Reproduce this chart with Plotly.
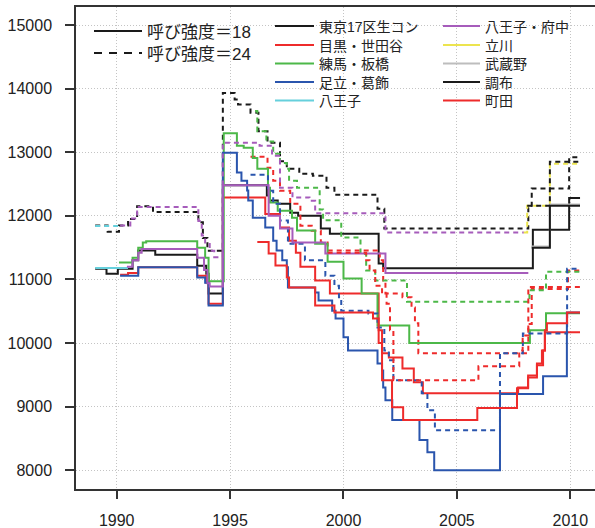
import plotly.graph_objects as go

# ---------------- data (change points: year, price) ----------------
tokyo17_18_x = [1989.05, 1989.55, 1990.05, 1990.7, 1990.95, 1991.7, 1993.55, 1993.95, 1994.05, 1994.68, 1996.62, 1996.75, 1997.1, 1997.65, 1998.0, 1999.0, 1999.4, 2001.55, 2001.75, 2008.35, 2009.95, 2010.43]
tokyo17_18_y = [11170, 11090, 11170, 11300, 11455, 11390, 11215, 11090, 10780, 12480, 12320, 12240, 12190, 12050, 12000, 11800, 11720, 11250, 11175, 11780, 12280, 12280]

tokyo17_24_x = [1989.05, 1989.6, 1990.1, 1990.5, 1990.9, 1991.6, 1993.6, 1993.8, 1994.0, 1994.68, 1995.2, 1995.35, 1995.9, 1996.25, 1996.65, 1997.2, 1997.5, 1998.05, 1998.65, 1999.25, 1999.6, 2001.5, 2001.8, 2008.15, 2008.3, 2009.95, 2010.43]
tokyo17_24_y = [11850, 11750, 11850, 11950, 12150, 12060, 11900, 11650, 11450, 13930, 13830, 13750, 13620, 13330, 13150, 12860, 12740, 12660, 12630, 12440, 12330, 12110, 11800, 12130, 12430, 12920, 12920]

meguro_18_x = [1990.15, 1990.5, 1990.95, 1993.55, 1993.95, 1994.05, 1994.68, 1996.55, 1997.2, 1997.6, 1997.9, 1998.1, 1998.75, 1999.4, 2001.55, 2001.7, 2002.0, 2002.6, 2003.1, 2003.5, 2007.7, 2008.14, 2008.53, 2008.8, 2008.88, 2010.43]
meguro_18_y = [11075, 11100, 11190, 11060, 10950, 10620, 12290, 12030, 11815, 11610, 11420, 11200, 10985, 10780, 10200, 9840, 9775, 9600, 9385, 9210, 9300, 9460, 9650, 9885, 10170, 10170]

meguro_24_x = [1995.9, 1996.65, 1996.9, 1997.2, 1997.65, 1998.1, 1998.6, 1999.0, 1999.3, 2001.6, 2001.75, 2001.85, 2002.6, 2003.0, 2003.15, 2003.3, 2008.15, 2008.3, 2009.9, 2010.43]
meguro_24_y = [12930, 12755, 12550, 12395, 12190, 11845, 11765, 11580, 11455, 11300, 10985, 10780, 10720, 10560, 10310, 9840, 10300, 10850, 11140, 11140]

nerima_18_x = [1990.1, 1990.7, 1990.95, 1991.15, 1991.3, 1993.55, 1993.9, 1994.05, 1994.72, 1995.3, 1995.6, 1996.0, 1996.2, 1996.67, 1996.76, 1997.1, 1997.73, 1997.95, 1998.75, 1999.3, 2000.0, 2000.8, 2001.5, 2002.9, 2008.22, 2008.93, 2010.43]
nerima_18_y = [11265, 11340, 11500, 11580, 11600, 11500, 11340, 10970, 13300, 13100, 13070, 12910, 12740, 12440, 12210, 12080, 11970, 11770, 11560, 11280, 11015, 10780, 10275, 10000, 10200, 10470, 10470]

nerima_24_x = [1996.1, 1996.2, 1996.6, 1996.9, 1997.2, 1997.5, 1997.6, 1997.95, 1998.95, 1999.1, 1999.9, 2000.75, 2001.0, 2001.4, 2002.8, 2008.2, 2008.93, 2010.43]
nerima_24_y = [13650, 13330, 13170, 12975, 12830, 12740, 12550, 12440, 12100, 11930, 11660, 11400, 11140, 10985, 10650, 10830, 11120, 11120]

adachi_18_x = [1990.15, 1990.95, 1993.55, 1993.9, 1994.05, 1994.68, 1995.3, 1995.5, 1995.75, 1995.8, 1996.0, 1996.55, 1996.9, 1997.05, 1997.3, 1997.5, 1997.55, 1998.75, 1998.9, 1999.5, 1999.65, 2000.0, 2000.2, 2001.5, 2001.7, 2001.75, 2001.85, 2002.15, 2003.35, 2003.7, 2004.0, 2006.9, 2008.8, 2009.85, 2010.43]
adachi_18_y = [11060, 11190, 11030, 10950, 10590, 12990, 12680, 12550, 12400, 12240, 11970, 11815, 11610, 11455, 11300, 11190, 10875, 10795, 10670, 10510, 10385, 10090, 9885, 9680, 9570, 9300, 9100, 8790, 8475, 8285, 8000, 9200, 9480, 10480, 10480]

adachi_24_x = [1995.9, 1996.67, 1996.9, 1997.2, 1997.55, 1998.3, 1999.2, 1999.6, 1999.8, 1999.9, 2001.1, 2001.5, 2001.8, 2002.0, 2002.2, 2003.45, 2003.7, 2004.03, 2006.9, 2007.91, 2009.86, 2010.43]
adachi_24_y = [12645, 12395, 12190, 11925, 11560, 11300, 11060, 10900, 10720, 10510, 10465, 10245, 9885, 9730, 9415, 9210, 8945, 8630, 9840, 10150, 11170, 11170]

hachioji_18_x = [1989.05, 1990.5]
hachioji_18_y = [11180, 11180]
hachioji_24_x = [1989.05, 1990.2]
hachioji_24_y = [11840, 11840]

hfuchu_18_x = [1990.45, 1990.7, 1990.95, 1991.1, 1993.55, 1993.85, 1994.0, 1994.1, 1994.68, 1996.7, 1997.2, 1997.75, 1999.2, 2001.85, 2008.15]
hfuchu_18_y = [11200, 11300, 11420, 11480, 11340, 11150, 10940, 10890, 12480, 12000, 11800, 11580, 11410, 11100, 11100]

hfuchu_24_x = [1990.15, 1990.6, 1990.9, 1993.6, 1993.75, 1993.9, 1994.1, 1994.3, 1994.68, 1996.3, 1996.85, 1997.2, 1997.75, 1998.5, 1998.75, 2001.85, 2007.95]
hfuchu_24_y = [11850, 11960, 12140, 11920, 11690, 11580, 11450, 11350, 13150, 13100, 12945, 12440, 12290, 12236, 12040, 11740, 11740]

tachikawa_24_x = [2007.95, 2008.1, 2009.1, 2010.43]
tachikawa_24_y = [11740, 12160, 12820, 12820]

musashino_18_x = [2008.3, 2009.1, 2010.43]
musashino_18_y = [11520, 12180, 12180]

chofu_18_x = [2008.3, 2009.1, 2010.43]
chofu_18_y = [11500, 12160, 12160]
chofu_24_x = [2008.1, 2009.1, 2010.43]
chofu_24_y = [12160, 12850, 12850]

machida_18_x = [1996.2, 1996.7, 1997.0, 1997.5, 1997.6, 1998.75, 1999.6, 2001.3, 2001.55, 2001.7, 2002.14, 2002.63, 2005.9, 2007.65, 2008.14, 2008.53, 2008.75, 2008.88, 2008.97, 2009.86, 2010.43]
machida_18_y = [11590, 11410, 11220, 11030, 10875, 10590, 10480, 10385, 10000, 9415, 8990, 8790, 8980, 9290, 9490, 9680, 9885, 10200, 10310, 10480, 10480]

machida_24_x = [1999.3, 2001.0, 2001.15, 2001.4, 2001.7, 2001.9, 2002.05, 2002.2, 2005.95, 2007.75, 2007.9, 2008.15, 2010.43]
machida_24_y = [11420, 11300, 11140, 10900, 10780, 10620, 10200, 9415, 9635, 9885, 10120, 10880, 10880]

region_names = ["東京17区生コン", "目黒・世田谷", "練馬・板橋", "足立・葛飾", "八王子",
                "八王子・府中", "立川", "武蔵野", "調布", "町田"]
strength_names = ["呼び強度＝18", "呼び強度＝24"]
x_ticks = [1990, 1995, 2000, 2005, 2010]
y_ticks = [8000, 9000, 10000, 11000, 12000, 13000, 14000, 15000]

# ---------------- styling ----------------
C_BLACK = "#1a1a1a"
C_RED = "#ee2b2b"
C_GREEN = "#4cb848"
C_BLUE = "#2a55ad"
C_CYAN = "#66d0dc"
C_PURPLE = "#a65cbb"
C_YELLOW = "#ece44f"
C_GRAY = "#bdbdbd"
region_colors = [C_BLACK, C_RED, C_GREEN, C_BLUE, C_CYAN,
                 C_PURPLE, C_YELLOW, C_GRAY, C_BLACK, C_RED]
DASH = "5px,4px"
LW = 2

series = [
    (tokyo17_18_x, tokyo17_18_y, C_BLACK, "solid"),
    (tokyo17_24_x, tokyo17_24_y, C_BLACK, DASH),
    (meguro_18_x, meguro_18_y, C_RED, "solid"),
    (meguro_24_x, meguro_24_y, C_RED, DASH),
    (nerima_18_x, nerima_18_y, C_GREEN, "solid"),
    (nerima_24_x, nerima_24_y, C_GREEN, DASH),
    (adachi_18_x, adachi_18_y, C_BLUE, "solid"),
    (adachi_24_x, adachi_24_y, C_BLUE, DASH),
    (hachioji_18_x, hachioji_18_y, C_CYAN, "solid"),
    (hachioji_24_x, hachioji_24_y, C_CYAN, DASH),
    (hfuchu_18_x, hfuchu_18_y, C_PURPLE, "solid"),
    (hfuchu_24_x, hfuchu_24_y, C_PURPLE, DASH),
    (tachikawa_24_x, tachikawa_24_y, C_YELLOW, DASH),
    (musashino_18_x, musashino_18_y, C_GRAY, "solid"),
    (chofu_18_x, chofu_18_y, C_BLACK, "solid"),
    (chofu_24_x, chofu_24_y, C_BLACK, DASH),
    (machida_18_x, machida_18_y, C_RED, "solid"),
    (machida_24_x, machida_24_y, C_RED, DASH),
]

fig = go.Figure()
for xs, ys, col, dash in series:
    fig.add_trace(go.Scatter(x=xs, y=ys, mode="lines", line_shape="hv",
                             line=dict(color=col, width=LW, dash=dash),
                             showlegend=False, hoverinfo="skip"))

FONT = "Liberation Sans, Noto Sans CJK JP, sans-serif"

# plot area in pixels: x 76..595, y 7..489
def px_x(p):
    return (p - 76) / 519.0

def px_y(p):
    return 1 - (p - 7) / 482.0

legend_layout = {}
entries = []
# group 1: line style key
for i, (name, dash) in enumerate(zip(strength_names, ["solid", "8px,7px"])):
    entries.append((name, C_BLACK, dash, 89, [31.5, 53.5][i], 17, 48))
# group 2 / 3: regions
row_y = [26.5, 45.5, 64, 82.5, 101]
for i, (name, col) in enumerate(zip(region_names, region_colors)):
    left = 270 if i < 5 else 438
    iw = 39 if i < 5 else 37
    entries.append((name, col, "solid", left, row_y[i % 5], 14, iw))

for k, (name, col, dash, left, cy, fs, iw) in enumerate(entries):
    lid = "legend" if k == 0 else "legend%d" % (k + 1)
    fig.add_trace(go.Scatter(x=[None], y=[None], mode="lines", name=name,
                             line=dict(color=col, width=LW, dash=dash),
                             legend=lid, hoverinfo="skip"))
    legend_layout[lid] = dict(x=px_x(left), y=px_y(cy), xanchor="left",
                              yanchor="middle", bgcolor="rgba(0,0,0,0)",
                              borderwidth=0, itemwidth=iw,
                              font=dict(size=fs, family=FONT, color="#222222"))

GRID = dict(showgrid=True, gridcolor="#c4c4c4", griddash="1px,2px", gridwidth=1)

fig.update_layout(
    width=595, height=528,
    margin=dict(l=76, r=0, t=7, b=39),
    paper_bgcolor="white", plot_bgcolor="white",
    font=dict(family=FONT, color="#222222"),
    xaxis=dict(range=[1988.205, 2011.09], tickvals=x_ticks, ticks="outside",
               ticklen=8, tickwidth=1.5, tickcolor="#333333",
               showline=True, linecolor="#333333", linewidth=1.5, mirror=True,
               zeroline=False, tickfont=dict(size=16, family=FONT, color="#222222"),
               ticklabelstandoff=8, **GRID),
    yaxis=dict(range=[7706, 15283], tickvals=y_ticks, tickformat="d",
               ticks="outside",
               ticklen=9, tickwidth=1.5, tickcolor="#333333",
               showline=True, linecolor="#333333", linewidth=1.5,
               zeroline=False, tickfont=dict(size=16, family=FONT, color="#222222"),
               ticklabelstandoff=10, **GRID),
    **legend_layout,
)

fig.write_html("out.html")
